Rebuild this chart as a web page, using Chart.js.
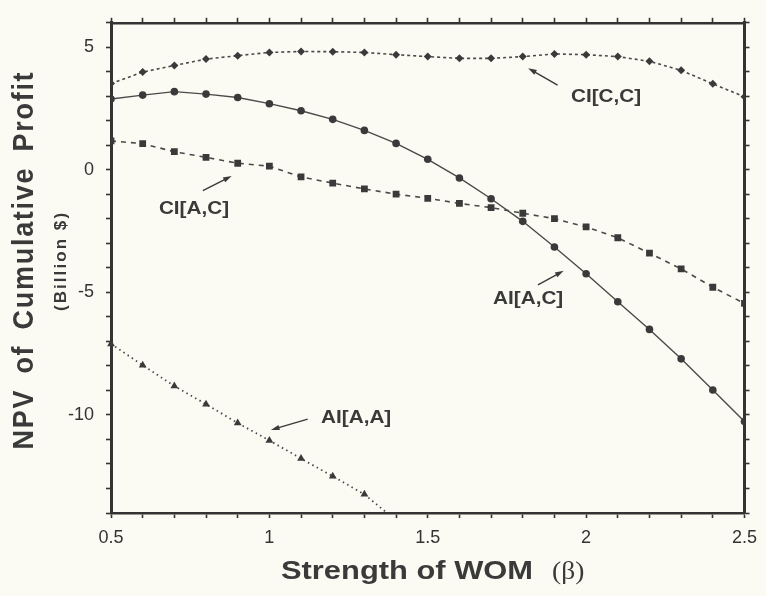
<!DOCTYPE html>
<html>
<head>
<meta charset="utf-8">
<script src="https://cdn.jsdelivr.net/npm/chart.js@4.4.1/dist/chart.umd.min.js"></script>
<style>
  html, body { margin: 0; padding: 0; background: #fbfbf3; }
  #wrap { width: 766px; height: 596px; position: relative; }
</style>
</head>
<body>
<div id="wrap"><canvas id="myChart" width="766" height="596"></canvas></div>
<script>
'use strict';

// ====================== DATA ======================//
let betas = [0.5, 0.6, 0.7, 0.8, 0.9, 1.0, 1.1, 1.2, 1.3, 1.4, 1.5,
             1.6, 1.7, 1.8, 1.9, 2.0, 2.1, 2.2, 2.3, 2.4, 2.5];
// CI[C,C]  (diamonds, dotted)
let ciCC = [3.52, 3.99, 4.26, 4.52, 4.66, 4.79, 4.83, 4.82, 4.79, 4.70, 4.62,
            4.55, 4.55, 4.62, 4.73, 4.70, 4.62, 4.43, 4.06, 3.51, 2.98];
// AI[A,C]  (circles, solid)
let aiAC = [2.89, 3.05, 3.19, 3.09, 2.95, 2.70, 2.41, 2.06, 1.61, 1.08, 0.43,
            -0.33, -1.18, -2.10, -3.15, -4.24, -5.38, -6.51, -7.71, -8.98, -10.27];
// CI[A,C]  (squares, dashed)
let ciAC = [1.18, 1.07, 0.74, 0.51, 0.27, 0.15, -0.29, -0.54, -0.78, -0.99, -1.16,
            -1.37, -1.54, -1.77, -1.99, -2.33, -2.77, -3.40, -4.04, -4.79, -5.45];
// AI[A,A]  (triangles, dotted) - runs off the bottom after 1.3
let aiAA = [-7.10, -7.97, -8.82, -9.56, -10.33, -11.04, -11.78, -12.50, -13.24, -14.30];

let xTickLabels = [0.5, 1, 1.5, 2, 2.5];
let yTickLabels = [-10, -5, 0, 5];

// labels with arrows, in data units: [text, labelX, labelY, fromX, fromY, toX, toY]
let notes = [
  ['CI[C,C]', 2.063, 2.98, 1.910, 3.46, 1.817, 4.15],
  ['CI[A,C]', 0.762, -1.58, 0.790, -0.85, 0.881, -0.25],
  ['AI[A,C]', 1.817, -5.29, 1.848, -4.69, 1.929, -4.12],
  ['AI[A,A]', 1.274, -10.13, 1.121, -10.17, 1.005, -10.61]
];

let ink = '#3a3a3a';

function toPoints(values) {
  let pts = [];
  for (let i = 0; i < values.length; i++) {
    pts.push({ x: betas[i], y: values[i] });
  }
  return pts;
}

// ====================== DRAWING HELPERS ======================//
function stretchedText(ctx, text, x, y, font, sx) {
  ctx.save();
  ctx.font = font;
  ctx.translate(x, y);
  ctx.scale(sx, 1);
  ctx.textAlign = 'center';
  ctx.textBaseline = 'middle';
  ctx.fillText(text, 0, 0);
  ctx.restore();
}

function arrow(ctx, x1, y1, x2, y2) {
  let ang = Math.atan2(y2 - y1, x2 - x1);
  let head = 9;
  ctx.save();
  ctx.strokeStyle = ink;
  ctx.fillStyle = ink;
  ctx.lineWidth = 1.4;
  ctx.beginPath();
  ctx.moveTo(x1, y1);
  ctx.lineTo(x2 - Math.cos(ang) * head * 0.7, y2 - Math.sin(ang) * head * 0.7);
  ctx.stroke();
  ctx.beginPath();
  ctx.moveTo(x2, y2);
  ctx.lineTo(x2 - Math.cos(ang - 0.3) * head, y2 - Math.sin(ang - 0.3) * head);
  ctx.lineTo(x2 - Math.cos(ang + 0.3) * head, y2 - Math.sin(ang + 0.3) * head);
  ctx.closePath();
  ctx.fill();
  ctx.restore();
}

// rotated text fitted to a given length along the axis
function verticalText(ctx, text, cx, cy, font, across, length, wordGap) {
  ctx.save();
  ctx.translate(cx, cy);
  ctx.rotate(-Math.PI / 2);
  ctx.scale(1, across);
  ctx.font = font;
  ctx.letterSpacing = '0px';
  ctx.wordSpacing = wordGap + 'px';
  let tw = ctx.measureText(text).width;
  let ls = Math.max(0, (length - tw) / (text.length - 1));
  ctx.letterSpacing = ls.toFixed(2) + 'px';
  ctx.textAlign = 'left';
  ctx.textBaseline = 'middle';
  ctx.fillText(text, -length / 2, 0);
  ctx.restore();
}

let bgPlugin = {
  id: 'bg',
  beforeDraw(chart) {
    let ctx = chart.ctx;
    ctx.save();
    ctx.fillStyle = '#fbfbf3';
    ctx.fillRect(0, 0, chart.width, chart.height);
    ctx.restore();
  }
};

let textPlugin = {
  id: 'texts',
  afterDraw(chart) {
    let ctx = chart.ctx;
    let xs = chart.scales.x;
    let ys = chart.scales.y;
    ctx.save();
    ctx.fillStyle = ink;

    // curve labels + arrows
    notes.forEach(n => {
      stretchedText(ctx, n[0], xs.getPixelForValue(n[1]), ys.getPixelForValue(n[2]),
        'bold 18px "Liberation Sans", Arial, sans-serif', 1.15);
      arrow(ctx, xs.getPixelForValue(n[3]), ys.getPixelForValue(n[4]),
        xs.getPixelForValue(n[5]), ys.getPixelForValue(n[6]));
    });

    // x axis title
    ctx.font = 'bold 25px "Liberation Sans", Arial, sans-serif';
    let main = 'Strength of WOM';
    let w = ctx.measureText(main).width;
    let sx = 252 / w;
    ctx.save();
    ctx.translate(281, 572);
    ctx.scale(sx, 1);
    ctx.textAlign = 'left';
    ctx.textBaseline = 'middle';
    ctx.fillText(main, 0, 0);
    ctx.restore();
    ctx.save();
    ctx.font = '25px "Liberation Serif", "DejaVu Serif", serif';
    ctx.translate(552, 572);
    ctx.scale(1.1, 1);
    ctx.textAlign = 'left';
    ctx.textBaseline = 'middle';
    ctx.fillText('(\u03B2)', 0, 0);
    ctx.restore();

    // y axis title (two lines, rotated)
    verticalText(ctx, 'NPV of Cumulative Profit', 25, 261,
      'bold 27px "Liberation Sans", Arial, sans-serif', 1.12, 377, 6);
    verticalText(ctx, '(Billion $)', 61, 262,
      'bold 17px "Liberation Sans", Arial, sans-serif', 1.0, 98, 0);

    ctx.restore();
  }
};

// ====================== SCALES ======================//
function xLabel(v) {
  let r = Math.round(v * 10) / 10;
  for (let i = 0; i < xTickLabels.length; i++) {
    if (Math.abs(xTickLabels[i] - r) < 1e-6) return String(xTickLabels[i]);
  }
  return '';
}
function yLabel(v) {
  let r = Math.round(v);
  return yTickLabels.includes(r) ? String(r) : '';
}

let gridOpts = {
  drawOnChartArea: false,
  drawTicks: true,
  tickLength: 5,
  tickWidth: 1.6,
  tickColor: '#333'
};
let tickFont = { family: '"Liberation Sans", Arial, sans-serif', size: 18 };

let chartObject = {
  type: 'line',
  data: {
    datasets: [
      {
        label: 'CI[C,C]',
        data: toPoints(ciCC),
        borderColor: '#4a4a4a',
        borderWidth: 1.6,
        borderDash: [3, 3],
        pointStyle: 'rectRot',
        pointRadius: 4,
        pointBackgroundColor: ink,
        pointBorderWidth: 0
      },
      {
        label: 'AI[A,C]',
        data: toPoints(aiAC),
        borderColor: '#4a4a4a',
        borderWidth: 1.4,
        pointStyle: 'circle',
        pointRadius: 3.8,
        pointBackgroundColor: ink,
        pointBorderWidth: 0
      },
      {
        label: 'CI[A,C]',
        data: toPoints(ciAC),
        borderColor: '#4a4a4a',
        borderWidth: 1.6,
        borderDash: [5, 5],
        pointStyle: 'rect',
        pointRadius: 4.8,
        pointBackgroundColor: ink,
        pointBorderWidth: 0
      },
      {
        label: 'AI[A,A]',
        data: toPoints(aiAA),
        borderColor: '#4a4a4a',
        borderWidth: 1.8,
        borderDash: [1.5, 3.5],
        pointStyle: 'triangle',
        pointRadius: 4.5,
        pointBackgroundColor: ink,
        pointBorderWidth: 0,
        clip: { left: 6, top: 6, right: 6, bottom: 0 }
      }
    ]
  },
  options: {
    responsive: false,
    animation: false,
    layout: { padding: 0 },
    plugins: {
      legend: { display: false },
      tooltip: { enabled: false }
    },
    elements: { line: { tension: 0 } },
    scales: {
      x: {
        type: 'linear',
        position: 'bottom',
        min: 0.5,
        max: 2.5,
        grid: gridOpts,
        border: { display: true, color: '#333', width: 2.5 },
        ticks: {
          stepSize: 0.1,
          autoSkip: false,
          maxRotation: 0,
          padding: 9,
          color: '#333',
          font: tickFont,
          callback: xLabel
        },
        afterFit(scale) { scale.height = 83; }
      },
      x2: {
        type: 'linear',
        position: 'top',
        min: 0.5,
        max: 2.5,
        grid: gridOpts,
        border: { display: true, color: '#333', width: 2.5 },
        ticks: { display: false, stepSize: 0.1, autoSkip: false },
        afterFit(scale) { scale.height = 17; }
      },
      y: {
        type: 'linear',
        position: 'left',
        min: -14,
        max: 6,
        grid: gridOpts,
        border: { display: true, color: '#333', width: 3 },
        ticks: {
          stepSize: 1,
          autoSkip: false,
          padding: 12,
          color: '#333',
          font: tickFont,
          callback: yLabel
        },
        afterFit(scale) { scale.width = 111; }
      },
      y2: {
        type: 'linear',
        position: 'right',
        min: -14,
        max: 6,
        grid: gridOpts,
        border: { display: true, color: '#333', width: 3 },
        ticks: { display: false, stepSize: 1, autoSkip: false },
        afterFit(scale) { scale.width = 14; }
      }
    }
  },
  plugins: [bgPlugin, textPlugin]
};

let ctx = document.getElementById('myChart').getContext('2d');
let myChart = new Chart(ctx, chartObject);
</script>
</body>
</html>
